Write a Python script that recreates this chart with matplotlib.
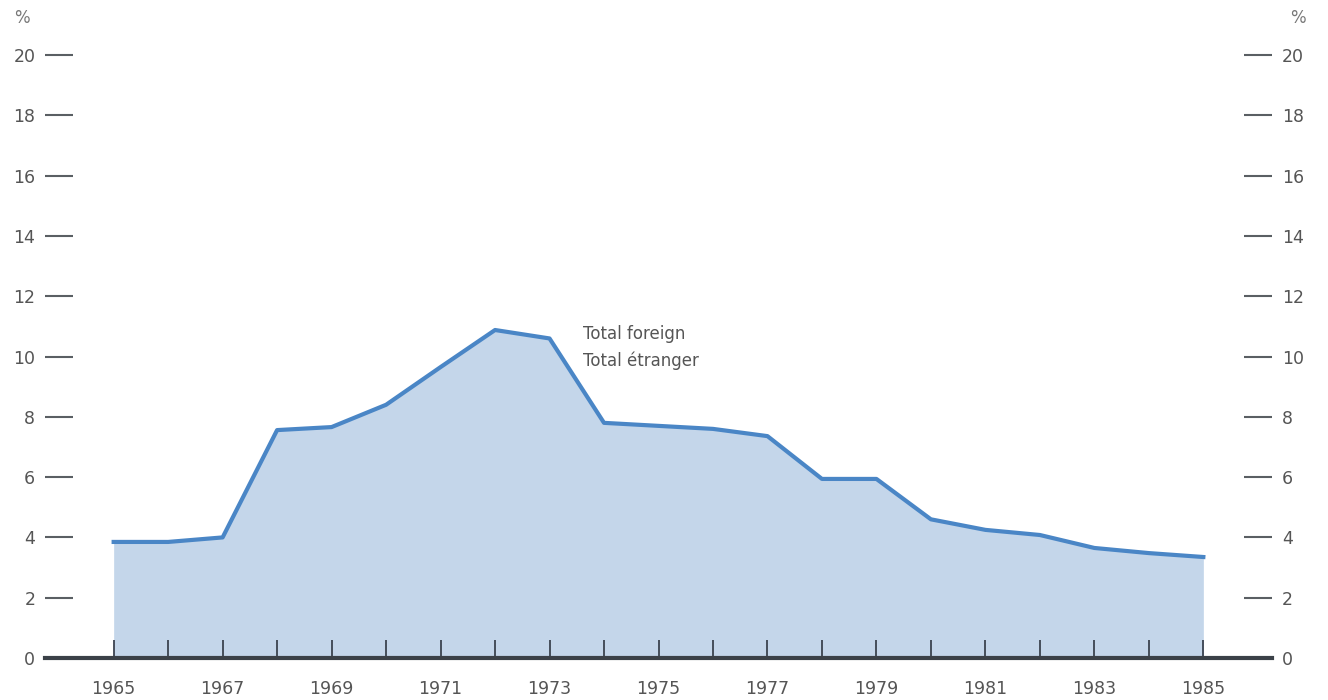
import matplotlib
matplotlib.use("Agg")
import matplotlib.pyplot as plt
import numpy as np

# data
years = np.arange(1965, 1986)
total_foreign = [3.85, 3.85, 4.0, 7.56, 7.66, 8.4, 9.65, 10.88, 10.6, 7.8, 7.7,
                 7.6, 7.36, 5.94, 5.94, 4.6, 4.25, 4.08, 3.65, 3.48, 3.35]
y_ticks = list(range(0, 21, 2))
x_labels = [str(y) if y % 2 == 1 else "" for y in years]

txt = "#555555"
fig = plt.figure(figsize=(13.28, 7), dpi=100)
ax = fig.add_axes([45 / 1328, 42 / 700, 1227 / 1328, 618 / 700])

ax.fill_between(years, 0, total_foreign, color="#c4d6ea", lw=0)
ax.plot(years, total_foreign, color="#4a86c6", lw=3, solid_joinstyle="round")

ax.set_xlim(1963.74, 1986.26)
ax.set_ylim(0, 20.5)

for s in ["top", "left", "right"]:
    ax.spines[s].set_visible(False)
ax.spines["bottom"].set_linewidth(3)
ax.spines["bottom"].set_color("#3b4148")
ax.spines["bottom"].set_zorder(5)

ax.set_xticks(years)
ax.set_xticklabels(x_labels)
ax.tick_params(axis="x", direction="in", length=13, width=1.3, color="#3b4350",
               pad=16, labelsize=12.5, labelcolor=txt)

ax.set_yticks(y_ticks)
ax.tick_params(axis="y", direction="in", length=20, width=1.5, color="#5a5f63",
               pad=7, labelsize=12.5, labelcolor=txt, left=True, right=True,
               labelleft=True, labelright=True)

ax.text(1973.61, 10.3, "Total foreign\nTotal étranger", fontsize=12, color=txt,
        va="center", ha="left", linespacing=1.55)

fig.text(22 / 1328, 1 - 18 / 700, "%", fontsize=12, color="#777777", ha="center", va="center")
fig.text(1298 / 1328, 1 - 18 / 700, "%", fontsize=12, color="#777777", ha="center", va="center")

fig.savefig("out.png", dpi=100)
